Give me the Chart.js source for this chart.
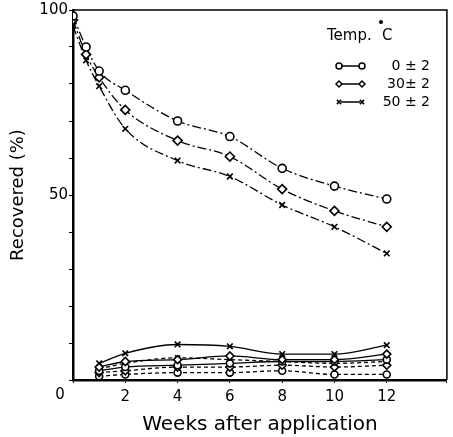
<!DOCTYPE html>
<html>
<head>
<meta charset="utf-8">
<script src="https://cdn.jsdelivr.net/npm/chart.js@4.4.1/dist/chart.umd.min.js"></script>
<style>
  html, body { margin: 0; padding: 0; background: #fff; }
</style>
</head>
<body>
<canvas id="myChart" width="453" height="437"></canvas>
<script>
// weeks after application, upper curves (parent compound)
const weeks = [0, 0.5, 1, 2, 4, 6, 8, 10, 12];
const rec0 = [98.4, 90, 83.5, 78.3, 70, 65.8, 57.2, 52.4, 48.9];
const rec30 = [97.3, 88, 81.8, 73, 64.7, 60.4, 51.6, 45.7, 41.4];
const rec50 = [95.7, 86.4, 79.4, 67.9, 59.3, 55, 47.3, 41.4, 34.2];

// lower curves
const weeksLow = [1, 2, 4, 6, 8, 10, 12];
const low50a = [4.5, 7.2, 9.6, 9.1, 7.0, 7.0, 9.4];
const low30a = [3.5, 5.0, 5.5, 6.5, 5.5, 5.5, 7.0];
const low0a = [2.5, 3.5, 4.0, 4.5, 5.0, 5.0, 5.5];
const low50b = [3.0, 4.5, 6.0, 5.5, 5.0, 4.5, 5.0];
const low30b = [2.0, 2.5, 3.5, 3.5, 4.0, 3.5, 4.0];
const low0b = [1.0, 1.5, 2.0, 2.0, 2.5, 1.5, 1.5];

const legendRows = ["0 \u00b1 2", "30\u00b1 2", "50 \u00b1 2"];
const FONT = "'DejaVu Sans', sans-serif";

function pts(xs, ys) {
  return xs.map((x, i) => ({ x: x, y: ys[i] }));
}

function series(xs, ys, style, dash, radius) {
  return {
    data: pts(xs, ys),
    borderColor: "#000",
    borderWidth: 1.3,
    borderDash: dash,
    backgroundColor: "#fff",
    pointStyle: style,
    pointRadius: radius,
    pointBorderColor: "#000",
    pointBorderWidth: 1.6,
    pointBackgroundColor: "#fff",
    tension: 0.35,
    cubicInterpolationMode: "monotone",
    fill: false
  };
}

const dashDot = [9, 3, 2, 3];
const dashed = [4, 3];

const frame = {
  id: "frame",
  afterDraw(chart) {
    const { ctx, chartArea: a } = chart;
    ctx.save();
    ctx.strokeStyle = "#000";
    ctx.lineWidth = 1.5;
    ctx.beginPath();
    ctx.moveTo(a.left, a.top);
    ctx.lineTo(a.right, a.top);
    ctx.lineTo(a.right, a.bottom);
    ctx.stroke();

    ctx.fillStyle = "#000";
    ctx.font = "15px " + FONT;
    ctx.textAlign = "center";
    ctx.textBaseline = "middle";
    ctx.fillText("0", 60, 395);

    // legend
    ctx.font = "15px " + FONT;
    ctx.textAlign = "left";
    ctx.textBaseline = "alphabetic";
    ctx.fillText("Temp.", 327, 40);
    ctx.fillText("C", 382, 40);
    ctx.beginPath();
    ctx.arc(381, 22, 2, 0, Math.PI * 2);
    ctx.fill();

    const styles = ["circle", "rectRot", "crossRot"];
    const rowY = [66, 84, 102];
    ctx.font = "14px " + FONT;
    ctx.textAlign = "right";
    ctx.textBaseline = "middle";
    for (let i = 0; i < 3; i++) {
      const y = rowY[i];
      ctx.lineWidth = 1.5;
      ctx.beginPath();
      ctx.moveTo(341, y);
      ctx.lineTo(360, y);
      ctx.stroke();
      ctx.fillStyle = "#fff";
      ctx.strokeStyle = "#000";
      Chart.helpers.drawPoint(ctx, { pointStyle: styles[i], radius: 3, rotation: 0, borderWidth: 1.4 }, 339, y);
      Chart.helpers.drawPoint(ctx, { pointStyle: styles[i], radius: 3, rotation: 0, borderWidth: 1.4 }, 362, y);
      ctx.fillStyle = "#000";
      ctx.fillText(legendRows[i], 430, y);
    }
    ctx.restore();
  }
};

const ctx = document.getElementById("myChart");

const myChart = new Chart(ctx, {
  type: "line",
  data: {
    datasets: [
      series(weeks, rec0, "circle", dashDot, 4),
      series(weeks, rec30, "rectRot", dashDot, 4.5),
      series(weeks, rec50, "crossRot", dashDot, 4),
      series(weeksLow, low50a, "crossRot", [], 4),
      series(weeksLow, low30a, "rectRot", [], 4),
      series(weeksLow, low0a, "circle", [], 3.5),
      series(weeksLow, low50b, "crossRot", dashed, 3.5),
      series(weeksLow, low30b, "rectRot", dashed, 4),
      series(weeksLow, low0b, "circle", dashed, 3.5)
    ]
  },
  options: {
    responsive: false,
    animation: false,
    devicePixelRatio: 1,
    layout: { padding: { top: 4, right: 4, left: 0, bottom: 0 } },
    plugins: { legend: { display: false }, tooltip: { enabled: false } },
    scales: {
      x: {
        type: "linear",
        min: 0,
        max: 14.3,
        afterFit: s => { s.height = 57; },
        ticks: {
          stepSize: 2,
          color: "#000",
          font: { family: FONT, size: 15 },
          padding: 5,
          maxRotation: 0,
          callback: v => (v >= 2 && v <= 12 && v % 2 === 0) ? v : ""
        },
        grid: { drawOnChartArea: false, tickLength: 3, color: "#000" },
        border: { color: "#000", width: 2.5 },
        title: {
          display: true,
          text: "Weeks after application",
          color: "#000",
          font: { family: FONT, size: 20 },
          padding: { top: 0, bottom: 0 }
        }
      },
      y: {
        min: 0,
        max: 100,
        afterFit: s => { s.width = 73; },
        ticks: {
          stepSize: 10,
          color: "#000",
          font: { family: FONT, size: 15 },
          padding: 1,
          callback: v => (v === 50 || v === 100) ? v : ""
        },
        grid: { drawOnChartArea: false, tickLength: 4, color: "#000" },
        border: { color: "#000", width: 2.5 },
        title: {
          display: true,
          text: "Recovered (%)",
          color: "#000",
          font: { family: FONT, size: 18 },
          padding: { top: 8, bottom: 4 }
        }
      }
    }
  },
  plugins: [frame]
});
</script>
</body>
</html>
